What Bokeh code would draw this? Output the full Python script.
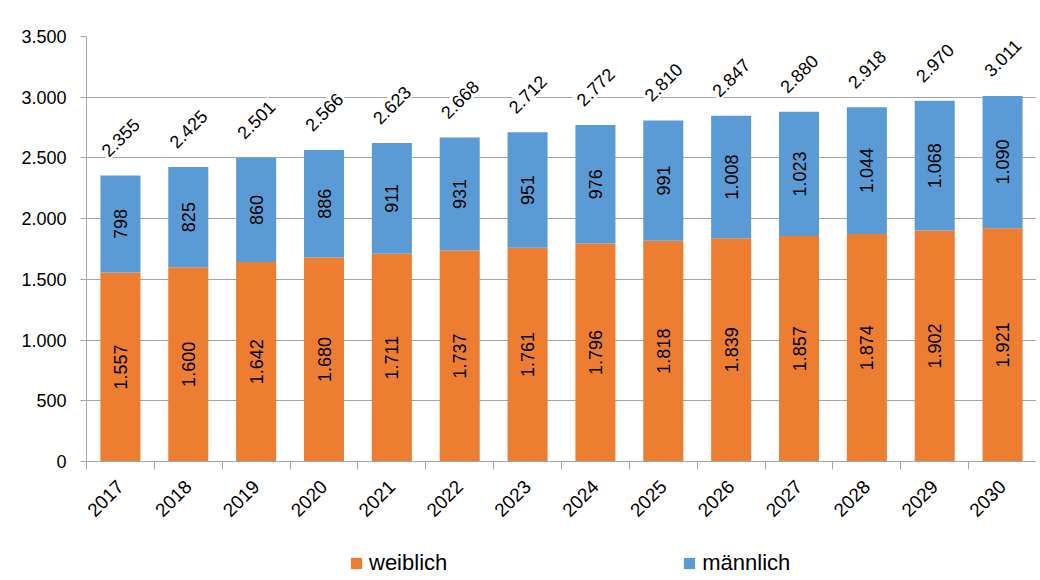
import math
from bokeh.plotting import figure
from bokeh.layouts import column
from bokeh.models import (ColumnDataSource, FixedTicker, Legend, LegendItem, Range1d)
from bokeh.core.properties import value
from bokeh.embed import file_html
from bokeh.resources import INLINE

years = [2017, 2018, 2019, 2020, 2021, 2022, 2023, 2024, 2025, 2026, 2027, 2028, 2029, 2030]
weiblich = [1557, 1600, 1642, 1680, 1711, 1737, 1761, 1796, 1818, 1839, 1857, 1874, 1902, 1921]
maennlich = [798, 825, 860, 886, 911, 931, 951, 976, 991, 1008, 1023, 1044, 1068, 1090]
totals = [2355, 2425, 2501, 2566, 2623, 2668, 2712, 2772, 2810, 2847, 2880, 2918, 2970, 3011]
y_ticks = [0, 500, 1000, 1500, 2000, 2500, 3000, 3500]
y_tick_labels = ["0", "500", "1.000", "1.500", "2.000", "2.500", "3.000", "3.500"]
series_names = ["weiblich", "männlich"]

ORANGE = "#ED7D31"
BLUE = "#5B9BD5"
FONT = "Liberation Sans"


def de(v):
    return f"{v:,}".replace(",", ".")


top_m = [w + m for w, m in zip(weiblich, maennlich)]
src = ColumnDataSource(dict(
    x=years,
    w=weiblich,
    m=maennlich,
    top_m=top_m,
    w_mid=[w / 2 for w in weiblich],
    m_mid=[w + m / 2 for w, m in zip(weiblich, maennlich)],
    w_lab=[de(v) for v in weiblich],
    m_lab=[de(v) for v in maennlich],
    tot=totals,
    tot_lab=[de(v) for v in totals],
))

p = figure(width=1036, height=525, output_backend="svg", toolbar_location=None,
           min_border_left=86, min_border_top=36, min_border_right=0, min_border_bottom=64,
           x_range=Range1d(years[0] - 0.5, years[-1] + 0.5),
           y_range=Range1d(0, 3500))
p.outline_line_color = None
p.background_fill_color = "white"
p.border_fill_color = "white"

p.vbar(x="x", width=0.59, bottom=0, top="w", source=src, fill_color=ORANGE, line_color=None)
p.vbar(x="x", width=0.59, bottom="w", top="top_m", source=src, fill_color=BLUE, line_color=None)

p.text(x="x", y="w_mid", text="w_lab", source=src, angle=math.pi / 2,
       text_align="center", text_baseline="middle", text_font=value(FONT),
       text_font_size="18px", text_color="black")
p.text(x="x", y="m_mid", text="m_lab", source=src, angle=math.pi / 2,
       text_align="center", text_baseline="middle", text_font=value(FONT),
       text_font_size="18px", text_color="black")
p.text(x="x", y="tot", text="tot_lab", source=src, angle=math.pi / 4,
       text_align="center", text_baseline="middle", text_font=value(FONT),
       text_font_size="18px", text_color="black", y_offset=-38,
       background_fill_color="white", padding=2)

# grid
p.xgrid.grid_line_color = None
p.ygrid.grid_line_color = "#A6A6A6"
p.ygrid.grid_line_width = 1
p.yaxis.ticker = FixedTicker(ticks=y_ticks)
p.yaxis.major_label_overrides = {t: l for t, l in zip(y_ticks, y_tick_labels)}
p.yaxis.axis_line_color = "#A6A6A6"
p.yaxis.major_tick_line_color = "#A6A6A6"
p.yaxis.major_tick_out = 6
p.yaxis.major_tick_in = 0
p.yaxis.minor_tick_line_color = None
p.yaxis.major_label_standoff = 14
p.yaxis.major_label_text_font = FONT
p.yaxis.major_label_text_font_size = "18px"
p.yaxis.major_label_text_color = "black"

p.xaxis.ticker = FixedTicker(ticks=years, minor_ticks=[y - 0.5 for y in years] + [years[-1] + 0.5])
p.xaxis.major_label_overrides = {y: str(y) for y in years}
p.xaxis.axis_line_color = "#A6A6A6"
p.xaxis.major_tick_line_color = None
p.xaxis.major_tick_out = 0
p.xaxis.minor_tick_line_color = "#A6A6A6"
p.xaxis.minor_tick_out = 8
p.xaxis.minor_tick_in = 0
p.xaxis.major_label_orientation = math.pi / 4
p.xaxis.major_label_standoff = 14
p.xaxis.major_label_text_font = FONT
p.xaxis.major_label_text_font_size = "19px"
p.xaxis.major_label_text_color = "black"

# legend strip (its bars use the same data but lie outside this strip's ranges)
lg = figure(width=1036, height=55, output_backend="svg", toolbar_location=None,
            min_border=0, x_range=Range1d(0, 1), y_range=Range1d(0, 1))
lg.axis.visible = False
lg.grid.grid_line_color = None
lg.outline_line_color = None
lr_w = lg.vbar(x="x", width=0.59, bottom=0, top="w", source=src, fill_color=ORANGE, line_color=None)
lr_m = lg.vbar(x="x", width=0.59, bottom="w", top="top_m", source=src, fill_color=BLUE, line_color=None)
legend = Legend(items=[LegendItem(label=series_names[0], renderers=[lr_w]),
                       LegendItem(label=series_names[1], renderers=[lr_m])],
                orientation="horizontal", spacing=235,
                glyph_width=14, glyph_height=14, label_text_font=FONT,
                label_text_font_size="22px", label_text_color="black",
                border_line_color=None, background_fill_alpha=0,
                margin=0, padding=0, label_standoff=6, label_height=24,
                location=(263, 4))
lg.add_layout(legend, "center")

layout = column(p, lg, spacing=0)
open("out.html", "w").write(file_html(layout, INLINE))
